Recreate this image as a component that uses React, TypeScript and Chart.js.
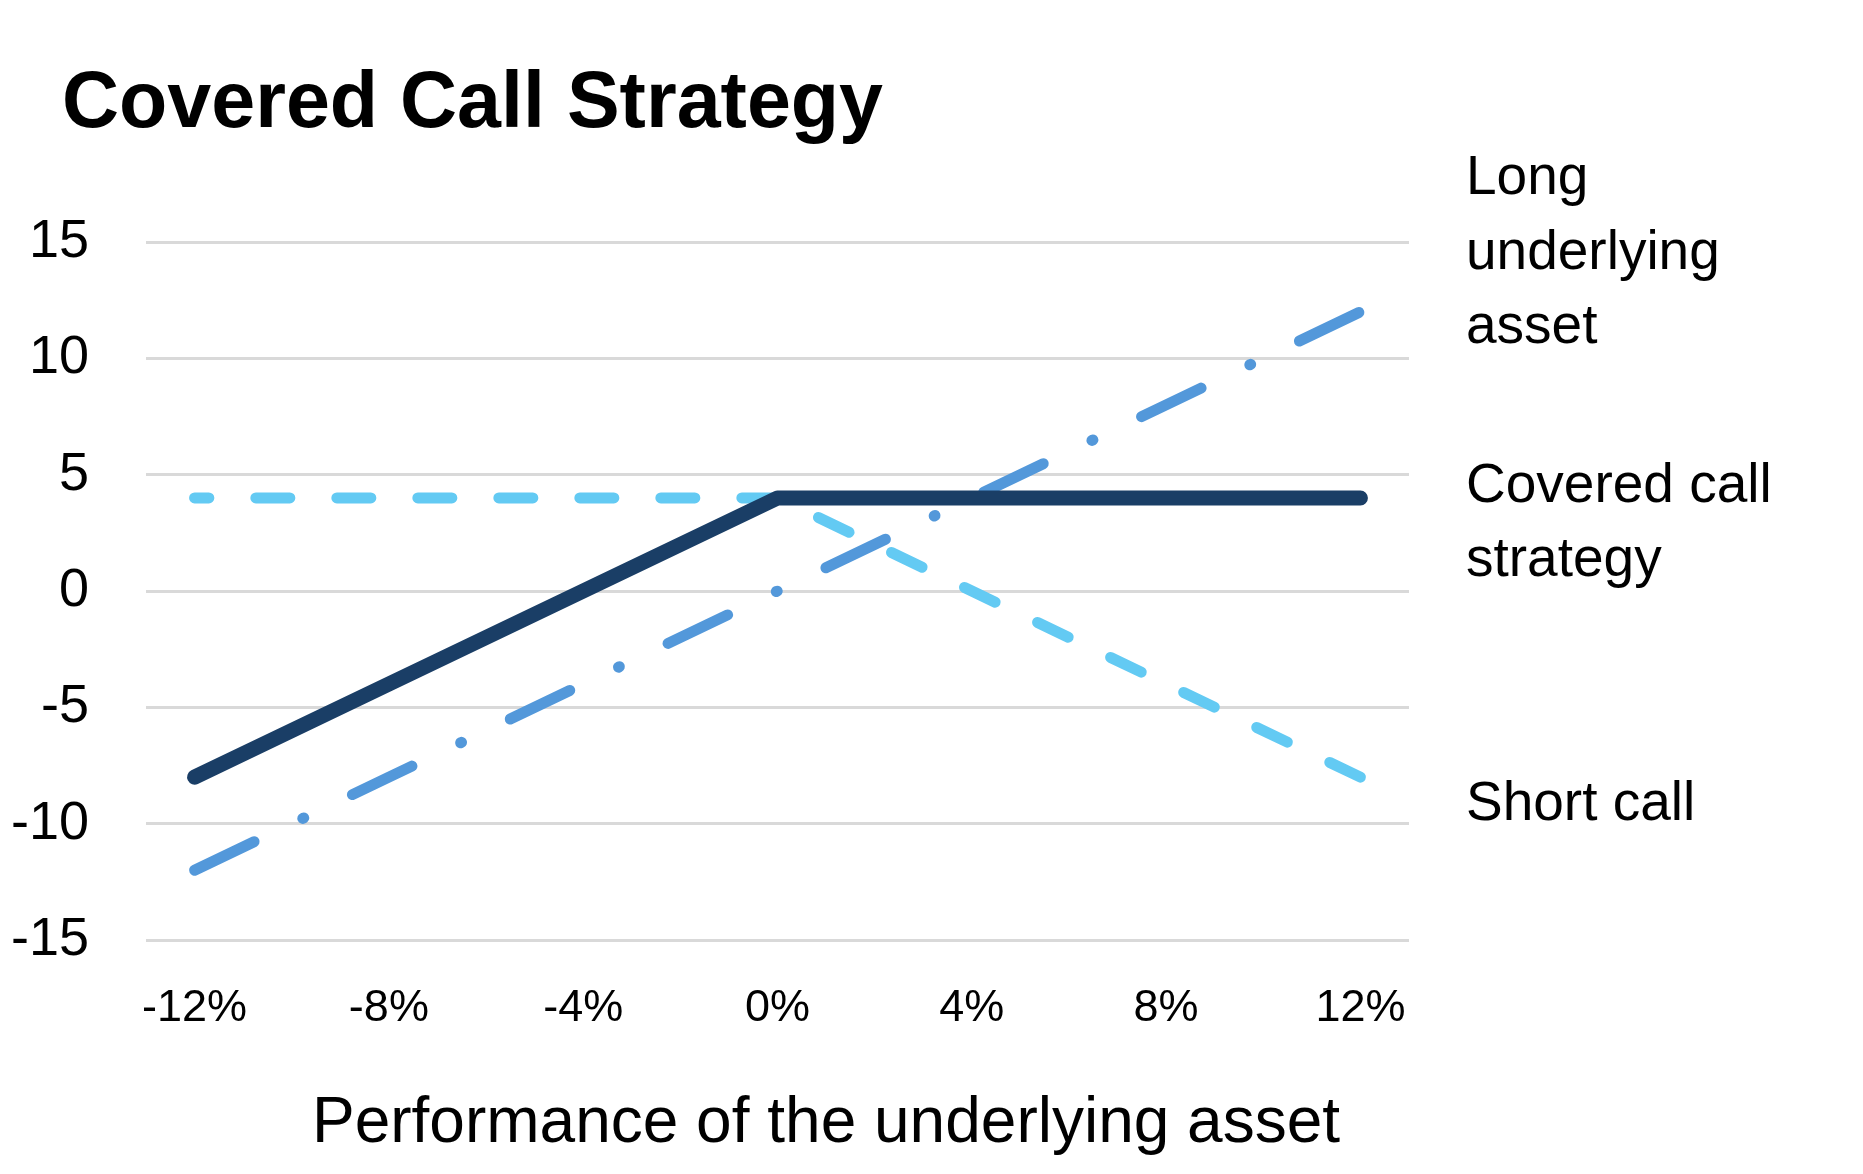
import React, { useEffect, useRef } from "react";
import { Chart, registerables } from "chart.js";

Chart.register(...registerables);

// ---- data ----
const xValues = [-12, -8, -4, 0, 4, 8, 12];
const longUnderlying = [-12, -8, -4, 0, 4, 8, 12];
const coveredCall = [-8, -4, 0, 4, 4, 4, 4];
const shortCall = [4, 4, 4, 4, 0, -4, -8];
const xTicks = [-12, -8, -4, 0, 4, 8, 12];
const yTicks = [-15, -10, -5, 0, 5, 10, 15];
const seriesNames = ["Long underlying asset", "Covered call strategy", "Short call"];
const legendLines = [["Long", "underlying", "asset"], ["Covered call", "strategy"], ["Short call"]];
const titleText = "Covered Call Strategy";
const xTitleText = "Performance of the underlying asset";

const FONT = "'Liberation Sans', Arial, sans-serif";
const W = 1863;
const H = 1174;

const textPlugin = {
  id: "extraTexts",
  afterDraw(chart: any) {
    const ctx = chart.ctx;
    ctx.save();
    ctx.fillStyle = "#000000";
    ctx.textBaseline = "alphabetic";
    // title
    ctx.textAlign = "left";
    ctx.font = `bold 79px ${FONT}`;
    ctx.fillText(titleText, 62, 127);
    // x axis title
    ctx.textAlign = "center";
    ctx.font = `64px ${FONT}`;
    ctx.fillText(xTitleText, 826, 1142);
    // legend labels
    ctx.textAlign = "left";
    ctx.font = `55px ${FONT}`;
    const baselines = [[194, 269, 343], [502, 576], [820]];
    legendLines.forEach((lines, i) => {
      lines.forEach((line, j) => {
        ctx.fillText(line, 1466, baselines[i][j]);
      });
    });
    ctx.restore();
  },
};

export default function App() {
  const ref = useRef<HTMLCanvasElement | null>(null);

  useEffect(() => {
    if (!ref.current) return;
    const pts = (ys: number[]) => xValues.map((x, i) => ({ x, y: ys[i] }));
    const chart = new Chart(ref.current, {
      type: "line",
      data: {
        datasets: [
          {
            label: seriesNames[1],
            data: pts(coveredCall),
            borderColor: "#1A3E66",
            backgroundColor: "#1A3E66",
            borderWidth: 15,
            borderCapStyle: "round",
            borderJoinStyle: "round",
            pointRadius: 0,
            fill: false,
            order: 0,
          },
          {
            label: seriesNames[0],
            data: pts(longUnderlying),
            borderColor: "#5398DA",
            backgroundColor: "#5398DA",
            borderWidth: 11,
            borderDash: [66, 54, 1, 54],
            borderCapStyle: "round",
            borderJoinStyle: "round",
            pointRadius: 0,
            fill: false,
            order: 1,
          },
          {
            label: seriesNames[2],
            data: pts(shortCall).reverse(),
            borderColor: "#63CAF3",
            backgroundColor: "#63CAF3",
            borderWidth: 11,
            borderDash: [34, 47],
            borderCapStyle: "round",
            borderJoinStyle: "round",
            pointRadius: 0,
            fill: false,
            order: 2,
          },
        ],
      },
      options: {
        responsive: false,
        animation: false,
        maintainAspectRatio: false,
        layout: { padding: { left: 0, top: 242, right: W - 1409, bottom: 0 } },
        plugins: {
          legend: { display: false },
          tooltip: { enabled: false },
          title: { display: false },
        },
        scales: {
          x: {
            type: "linear",
            min: -13,
            max: 13,
            afterBuildTicks: (scale: any) => {
              scale.ticks = xTicks.map((v) => ({ value: v }));
            },
            afterFit: (scale: any) => {
              scale.height = 234;
            },
            grid: { display: false, drawTicks: false },
            border: { display: false },
            ticks: {
              autoSkip: false,
              maxRotation: 0,
              minRotation: 0,
              padding: 42,
              color: "#000000",
              font: { family: FONT, size: 45 },
              callback: (v: any) => `${v}%`,
            },
          },
          y: {
            type: "linear",
            min: -15,
            max: 15,
            afterBuildTicks: (scale: any) => {
              scale.ticks = yTicks.map((v) => ({ value: v }));
            },
            afterFit: (scale: any) => {
              scale.width = 146;
            },
            grid: { color: "#D9D9D9", lineWidth: 3, drawTicks: false },
            border: { display: false },
            ticks: {
              padding: 57,
              color: "#000000",
              font: { family: FONT, size: 54 },
            },
          },
        },
      },
      plugins: [textPlugin],
    } as any);
    return () => chart.destroy();
  }, []);

  return (
    <div style={{ position: "fixed", left: 0, top: 0, width: W, height: H, background: "#ffffff" }}>
      <canvas ref={ref} width={W} height={H} style={{ display: "block", width: W, height: H }} />
    </div>
  );
}
